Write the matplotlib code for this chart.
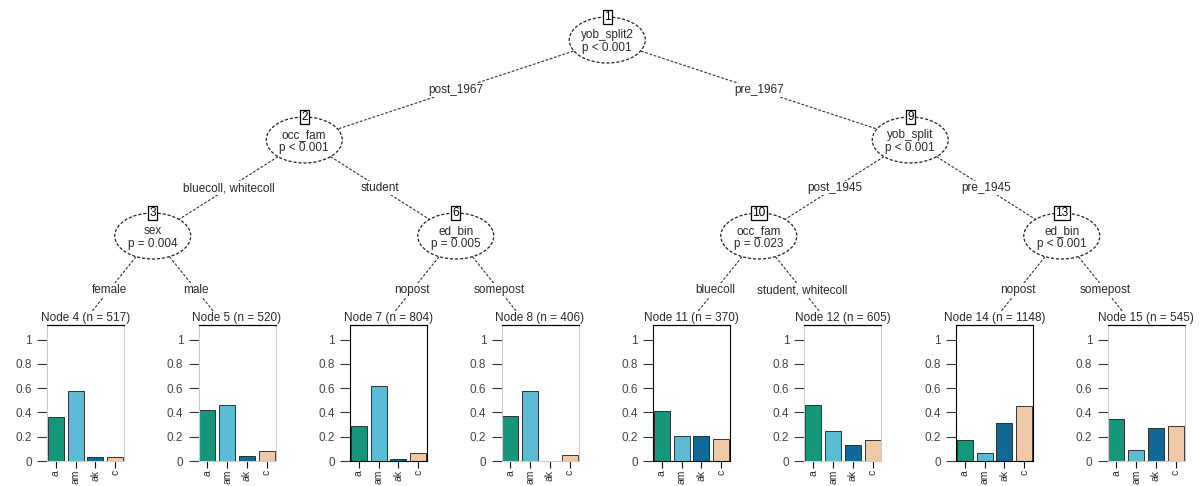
import matplotlib
matplotlib.use("Agg")
import matplotlib.pyplot as plt
from matplotlib.patches import Ellipse

plt.rcParams["font.family"] = ["Liberation Sans", "DejaVu Sans"]

# ---- tree structure ----
inner_ids = [1, 2, 3, 6, 9, 10, 13]
inner_vars = ["yob_split2", "occ_fam", "sex", "ed_bin", "yob_split", "occ_fam", "ed_bin"]
inner_pvals = ["p < 0.001", "p < 0.001", "p = 0.004", "p = 0.005",
               "p < 0.001", "p = 0.023", "p < 0.001"]

edge_parent = [1, 1, 2, 2, 3, 3, 6, 6, 9, 9, 10, 10, 13, 13]
edge_child = [2, 9, 3, 6, 4, 5, 7, 8, 10, 13, 11, 12, 14, 15]
edge_labels = ["post_1967", "pre_1967", "bluecoll, whitecoll", "student",
               "female", "male", "nopost", "somepost",
               "post_1945", "pre_1945", "bluecoll", "student, whitecoll",
               "nopost", "somepost"]

term_ids = [4, 5, 7, 8, 11, 12, 14, 15]
term_n = [517, 520, 804, 406, 370, 605, 1148, 545]

# ---- class proportions in terminal nodes ----
classes = ["a", "am", "ak", "c"]
p_node4 = [0.36, 0.58, 0.03, 0.03]
p_node5 = [0.42, 0.46, 0.04, 0.08]
p_node7 = [0.29, 0.62, 0.02, 0.07]
p_node8 = [0.37, 0.58, 0.00, 0.05]
p_node11 = [0.41, 0.21, 0.21, 0.18]
p_node12 = [0.46, 0.25, 0.13, 0.17]
p_node14 = [0.17, 0.07, 0.31, 0.45]
p_node15 = [0.35, 0.09, 0.27, 0.29]
props = [p_node4, p_node5, p_node7, p_node8, p_node11, p_node12, p_node14, p_node15]

bar_colors = ["#16977b", "#5cbcd5", "#0f6a97", "#efc9a5"]
dark_frame = [7, 11, 14]

W, H = 1204, 486
FS = 8.5
TXT = "#2a2a2a"

fig = plt.figure(figsize=(W / 100, H / 100), dpi=100)
ax = fig.add_axes([0, 0, 1, 1])
ax.set_xlim(0, W)
ax.set_ylim(H, 0)
ax.axis("off")

# layout (pixels)
children = {}
for p, c in zip(edge_parent, edge_child):
    children.setdefault(p, []).append(c)
pos = {}
for i, t in enumerate(term_ids):
    pos[t] = [77 + 151.5 * i, None]
level_y = [40, 140, 236]


def place(node, depth):
    if node in children:
        xs = [place(c, depth + 1) for c in children[node]]
        pos[node] = [sum(xs) / len(xs), level_y[depth]]
    return pos[node][0]


place(1, 0)
TERM_TOP = 330
for t in term_ids:
    pos[t][1] = TERM_TOP

# edges
for p, c, lab in zip(edge_parent, edge_child, edge_labels):
    x0, y0 = pos[p]
    x1, y1 = pos[c]
    if c in term_ids:
        yend = 313
        xend = x0 + (x1 - x0) * (yend - y0) / (y1 - y0)
        ax.plot([x0, xend], [y0, yend], color="#333333", lw=0.8,
                ls=(0, (2.5, 1.5)), zorder=1)
        ly = 290
        lx = x0 + (x1 - x0) * (ly - y0) / (y1 - y0)
    else:
        ax.plot([x0, x1], [y0, y1], color="#333333", lw=0.8,
                ls=(0, (2.5, 1.5)), zorder=1)
        lx, ly = (x0 + x1) / 2, (y0 + y1) / 2
    ax.text(lx, ly, lab, fontsize=FS, color=TXT, ha="center", va="center",
            zorder=3, bbox=dict(facecolor="white", edgecolor="none", pad=0.5))

# inner nodes
for nid, var, pv in zip(inner_ids, inner_vars, inner_pvals):
    x, y = pos[nid]
    ax.add_patch(Ellipse((x, y), 76, 46, facecolor="white", edgecolor="#222222",
                         lw=0.9, ls=(0, (2.5, 1.5)), zorder=4))
    ax.text(x, y - 5, var, fontsize=FS, color=TXT, ha="center", va="center", zorder=5)
    ax.text(x, y + 8, pv, fontsize=FS, color=TXT, ha="center", va="center", zorder=5)
    ax.text(x, y - 23, str(nid), fontsize=FS, color="black", ha="center",
            va="center", zorder=6,
            bbox=dict(boxstyle="square,pad=0.12", facecolor="white",
                      edgecolor="black", lw=0.9))

# terminal panels
PW = 77
P_TOP, P_BOT = 325, 461
for t, n, vals in zip(term_ids, term_n, props):
    x = pos[t][0]
    left = x - 30
    ax.text(left + PW / 2, 318, f"Node {t} (n = {n})", fontsize=FS, color=TXT,
            ha="center", va="center", zorder=3,
            bbox=dict(facecolor="white", edgecolor="none", pad=0.5))
    pax = fig.add_axes([left / W, 1 - P_BOT / H, PW / W, (P_BOT - P_TOP) / H])
    pax.bar(range(1, 5), vals, width=0.8, color=bar_colors,
            edgecolor="#1a1a1a", lw=0.6)
    pax.set_xlim(0.55, 4.45)
    pax.set_ylim(0, 1.12)
    pax.set_yticks([0, 0.2, 0.4, 0.6, 0.8, 1])
    pax.set_yticklabels(["0", "0.2", "0.4", "0.6", "0.8", "1"])
    pax.set_xticks(range(1, 5))
    pax.set_xticklabels(classes, rotation=90)
    pax.tick_params(axis="y", length=7, width=0.8, pad=4, labelsize=FS,
                    labelcolor="#444444", color="#333333")
    pax.tick_params(axis="x", length=5, width=0.8, pad=1.5, labelsize=7.5,
                    labelcolor=TXT, color="#111111")
    side = "black" if t in dark_frame else "#cccccc"
    for s in ["left", "right", "bottom"]:
        pax.spines[s].set_color(side)
        pax.spines[s].set_linewidth(0.8)
    pax.spines["top"].set_color("black")
    pax.spines["top"].set_linewidth(0.9)
    pax.set_facecolor("white")

fig.savefig("out.png", dpi=100)
